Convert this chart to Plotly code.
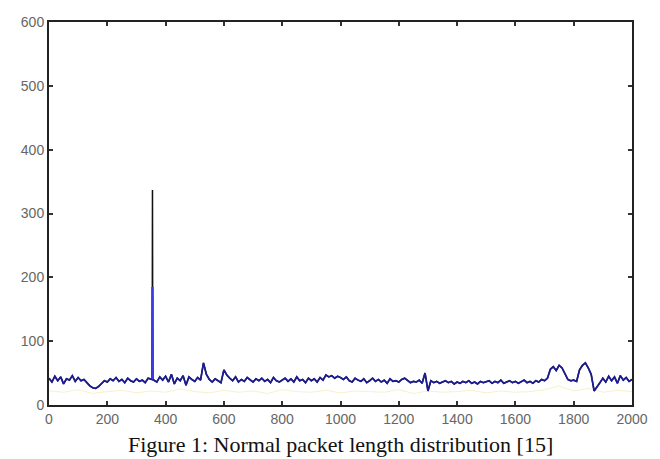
import plotly.graph_objects as go

# Sample positions (step 10) and estimated packet-length values
x_step = list(range(0, 2001, 10))
noise_vals = [
    42, 36, 45, 38, 44, 33, 41, 39, 46, 37,
    43, 38, 40, 35, 30, 27, 26, 29, 34, 38,
    36, 41, 38, 43, 37, 40, 35, 42, 38, 36,
    41, 37, 39, 35, 42, 38, 40, 36, 44, 39,
    45, 36, 48, 33, 42, 38, 46, 31, 44, 40,
    37, 43, 39, 66, 48, 40, 36, 41, 38, 35,
    55, 47, 42, 38, 44, 36, 40, 37, 43, 39,
    36, 41, 38, 42, 37, 40, 35, 43, 38, 36,
    39, 42, 37, 41, 36, 44, 38, 40, 35, 42,
    38, 41, 36, 43, 39, 47, 44, 46, 42, 45,
    43, 40, 44, 38, 36, 42, 39, 37, 41, 35,
    38, 42, 37, 40, 36, 39, 34, 41, 37, 38,
    36, 40, 42, 38, 35, 37, 36, 39, 34, 50,
    22, 38, 35, 37, 34, 36, 38, 35, 37, 33,
    36, 34, 37, 35, 38, 34, 36, 33, 37, 35,
    36, 38, 34, 37, 35, 39, 34, 36, 38, 35,
    37, 34, 36, 39, 35, 37, 34, 38, 36, 40,
    38, 42, 56, 60, 54, 62, 58, 48, 40, 38,
    39, 37, 55, 62, 66, 58, 48, 22, 28, 35,
    42, 36, 45, 38, 44, 34, 46, 39, 43, 37,
    40,
]
spike_x = [354, 355, 356]
black_spike = [40, 337, 40]
blue_spike = [40, 185, 40]

yellow_x = list(range(0, 2001, 50))
yellow_vals = [22, 20, 24, 18, 21, 23, 19, 22, 20, 25, 21, 19, 23, 20, 22, 18, 24, 21, 20, 23,
               19, 22, 21, 20, 24, 18, 22, 20, 21, 23, 19, 22, 20, 21, 24, 30, 22, 26, 20, 23, 21]

x_ticks = [0, 200, 400, 600, 800, 1000, 1200, 1400, 1600, 1800, 2000]
y_ticks = [0, 100, 200, 300, 400, 500, 600]
caption = "Figure 1: Normal packet length distribution [15]"


def merge(xs, ys, sx, sy):
    pts = sorted(list(zip(xs, ys)) + list(zip(sx, sy)))
    pts = [p for p in pts if not (p[0] in (350, 360))]
    return [p[0] for p in pts], [p[1] for p in pts]


bx, by = merge(x_step, noise_vals, spike_x, black_spike)
ux, uy = merge(x_step, noise_vals, spike_x, blue_spike)

fig = go.Figure()
fig.add_trace(go.Scatter(x=yellow_x, y=yellow_vals, mode="lines",
                         line=dict(color="rgba(235,225,140,0.45)", width=1), showlegend=False))
fig.add_trace(go.Scatter(x=bx, y=by, mode="lines",
                         line=dict(color="#111111", width=1.5), showlegend=False))
fig.add_trace(go.Scatter(x=ux, y=uy, mode="lines",
                         line=dict(color="#1c1c96", width=1.7), showlegend=False))
fig.add_trace(go.Scatter(x=spike_x[1:2] * 2, y=[blue_spike[0], blue_spike[1]], mode="lines",
                         line=dict(color="#3a3ae6", width=2), showlegend=False))

axis_font = dict(family="Liberation Sans, Arial, sans-serif", size=14, color="#666")
common = dict(ticks="inside", ticklen=4, tickwidth=1.5, tickcolor="#333",
              showline=True, linecolor="#222", linewidth=2,
              mirror="ticks", showgrid=False, zeroline=False, tickfont=axis_font)
plot_h = 459 - 22 - 54
fig.update_layout(
    width=660, height=459,
    margin=dict(l=49, r=25, t=22, b=54),
    paper_bgcolor="white", plot_bgcolor="white",
    xaxis=dict(range=[0, 2000], tickvals=x_ticks, **common),
    yaxis=dict(range=[0, 600], tickvals=y_ticks, **common),
    annotations=[dict(text=caption, x=0.5, xref="paper", y=(459 - 54 - 444) / plot_h,
                      yref="paper", yanchor="middle", showarrow=False,
                      font=dict(family="Liberation Serif, Times New Roman, serif",
                                size=22, color="#111"))],
)

fig.write_html("out.html")
